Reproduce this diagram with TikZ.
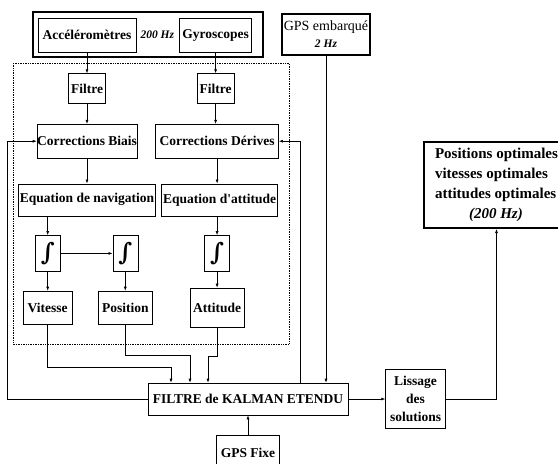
\documentclass[tikz,border=0pt]{standalone}
\usepackage{fontspec}
\setmainfont{Liberation Serif}
\newfontfamily\intfont{DejaVu Serif}
\usetikzlibrary{positioning, arrows.meta}
\newcommand{\smallarrow}{-{Latex[length=4pt,width=3pt]}}
\newcommand{\labelfont}{\fontsize{13.5}{15}\selectfont\bfseries}
\newcommand{\freqfont}{\fontsize{11.5}{13}\selectfont\bfseries\itshape}
\newcommand{\integrale}{{\intfont\fontsize{24}{24}\selectfont\bfseries ∫}}

\tikzset{
  bloc/.style={draw, line width=0.6pt, inner sep=0pt, align=center, font=\labelfont},
  cadre/.style={draw, line width=2pt, inner sep=0pt, align=center},
  integ/.style={bloc, minimum width=25pt, minimum height=36pt},
  sortie/.style={bloc, minimum height=33pt},
}

\begin{document}
\begin{tikzpicture}[x=1pt, y=1pt, line width=0.6pt]
    \useasboundingbox (0,0) rectangle (558,-464);
    % capteurs inertiels
    \node[bloc, minimum width=98pt, minimum height=34pt] (acc) at (87,-35) {Accéléromètres};
    \node[right=4pt of acc, inner sep=0pt, font=\freqfont] (freq) {200 Hz};
    \node[bloc, minimum width=72pt, minimum height=34pt, right=43pt of acc] (gyro) {Gyroscopes};
    \node[cadre, minimum width=230pt, minimum height=45pt] (capteurs) at (148,-34.5) {};
    \node[cadre, minimum width=88pt, minimum height=41pt, right=17pt of capteurs] (gpsemb)
        {{\fontsize{14}{16}\selectfont GPS embarqué}\\[5pt]{\freqfont 2 Hz}};
    % bloc de navigation
    \draw[densely dotted, line width=0.7pt] (13,-63) rectangle (289,-344);
    \node[bloc, minimum width=37pt, minimum height=30pt, below=21pt of acc] (filtre1) {Filtre};
    \node[bloc, minimum width=37pt, minimum height=30pt, below=21pt of gyro] (filtre2) {Filtre};
    \node[bloc, minimum width=100pt, minimum height=34pt, below=20pt of filtre1] (corrB) {Corrections Biais};
    \node[bloc, minimum width=123pt, minimum height=34pt, below=20pt of filtre2, xshift=1.5pt] (corrD) {Corrections Dérives};
    \node[bloc, minimum width=137pt, minimum height=32pt, below=25pt of corrB] (eqnav) {Equation de navigation};
    \node[bloc, minimum width=116pt, minimum height=32pt, below=25pt of corrD, xshift=2.5pt] (eqatt) {Equation d\textquotesingle attitude};
    \node[integ, below=19pt of eqnav.south west, xshift=29.5pt] (int1) {\integrale};
    \node[integ, right=52pt of int1] (int2) {\integrale};
    \node[integ, below=19pt of eqatt, xshift=-2.5pt] (int3) {\integrale};
    \node[sortie, minimum width=49pt, below=19pt of int1] (vit) {Vitesse};
    \node[sortie, minimum width=54pt, below=19pt of int2] (pos) {Position};
    \node[sortie, minimum width=54pt, minimum height=39pt, below=16pt of int3] (att) {Attitude};
    % fusion
    \node[bloc, minimum width=200pt, minimum height=32pt] (kalman) at (248,-399) {FILTRE de KALMAN ETENDU};
    \node[bloc, minimum width=63pt, minimum height=35pt, below=20pt of kalman] (gpsfix) {GPS Fixe};
    \node[bloc, minimum width=60pt, minimum height=59pt, right=37pt of kalman] (lissage)
        {Lissage\\[3pt]des\\[3pt]solutions};
    \node[cadre, anchor=north west, minimum width=145pt, minimum height=86pt, inner sep=4pt, align=left,
        font=\fontsize{15}{20}\selectfont\bfseries] (optim) at (423,-141)
        {Positions optimales\\vitesses optimales\\attitudes optimales\\\hspace*{34pt}{\itshape (200 Hz)}};

    \draw[\smallarrow] (acc) -- (filtre1);
    \draw[\smallarrow] (gyro) -- (filtre2);
    \draw[\smallarrow] (filtre1) -- (corrB);
    \draw[\smallarrow] (filtre2) -- (corrD.north -| filtre2);
    \draw[\smallarrow] (corrB) -- (eqnav.north -| corrB);
    \draw[\smallarrow] (corrD) -- (eqatt.north -| corrD);
    \draw[\smallarrow] (eqnav.south -| int1) -- (int1);
    \draw[\smallarrow] (int1) -- (int2);
    \draw[\smallarrow] (eqatt.south -| int3) -- (int3);
    \draw[\smallarrow] (int1) -- (vit);
    \draw[\smallarrow] (int2) -- (pos);
    \draw[\smallarrow] (int3) -- (att);
    \draw[\smallarrow] (vit.south) -- ++(0,-43) -| ([xshift=-77pt]kalman.north);
    \draw[\smallarrow] (pos.south) -- ++(0,-31) -| ([xshift=-58pt]kalman.north);
    \draw[\smallarrow] (att.south) -- ++(0,-29) -| ([xshift=-40pt]kalman.north);
    \draw[\smallarrow] (gpsemb.south) -- (gpsemb.south |- kalman.north);
    \draw[\smallarrow] (kalman.west) -- ++(-140,0) |- (corrB.west);
    \draw[\smallarrow] ([xshift=52pt]kalman.north) |- (corrD.east);
    \draw[\smallarrow] (gpsfix) -- (kalman);
    \draw[\smallarrow] (kalman) -- (lissage);
    \draw[\smallarrow] (lissage.east) -| (optim.south);
\end{tikzpicture}
\end{document}
